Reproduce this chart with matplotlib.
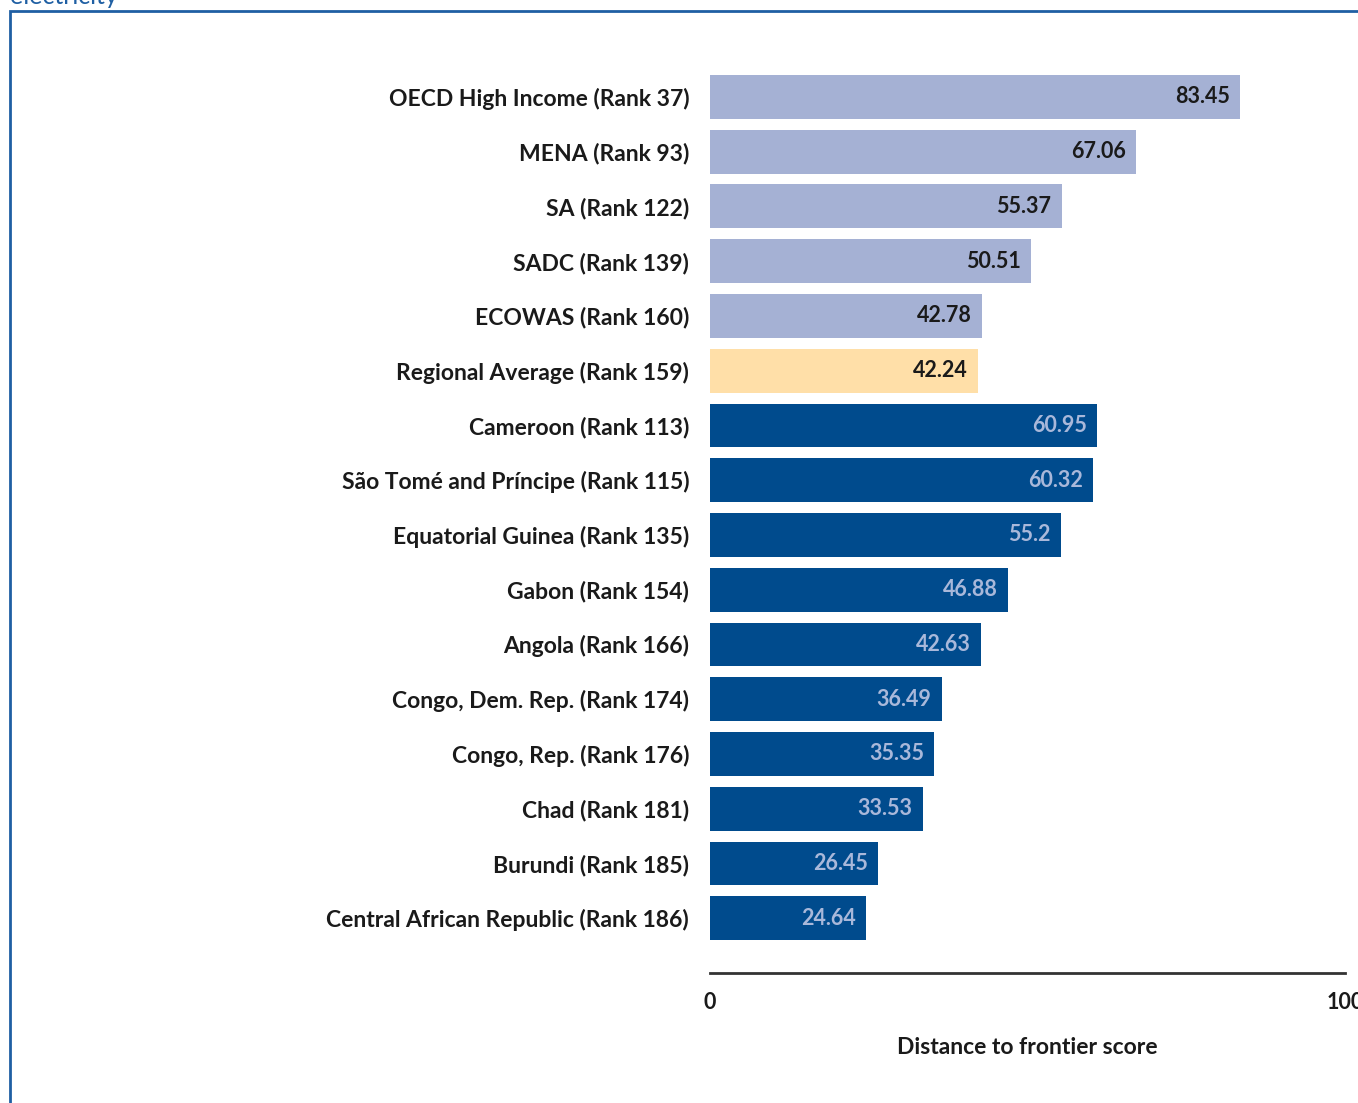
import matplotlib.pyplot as plt
from matplotlib.patches import Rectangle

# Data (top to bottom)
labels = ['OECD High Income (Rank 37)', 'MENA (Rank 93)', 'SA (Rank 122)',
          'SADC (Rank 139)', 'ECOWAS (Rank 160)', 'Regional Average (Rank 159)',
          'Cameroon (Rank 113)', 'São Tomé and Príncipe (Rank 115)',
          'Equatorial Guinea (Rank 135)', 'Gabon (Rank 154)', 'Angola (Rank 166)',
          'Congo, Dem. Rep. (Rank 174)', 'Congo, Rep. (Rank 176)',
          'Chad (Rank 181)', 'Burundi (Rank 185)',
          'Central African Republic (Rank 186)']
scores = [83.45, 67.06, 55.37, 50.51, 42.78, 42.24, 60.95, 60.32, 55.2,
          46.88, 42.63, 36.49, 35.35, 33.53, 26.45, 24.64]
groups = ['ref'] * 5 + ['avg'] + ['country'] * 10

bar_colors = {'ref': '#A5B1D4', 'avg': '#FFDFA8', 'country': '#004B8D'}
text_colors = {'ref': '#1a1a1a', 'avg': '#1a1a1a', 'country': '#A9B8DA'}

plt.rcParams['font.family'] = ['Lato', 'DejaVu Sans']

fig = plt.figure(figsize=(13.58, 11.03), dpi=100)
W, H = 1358, 1103
ax = fig.add_axes([710 / W, 1 - 973 / H, 635 / W, (973 - 64) / H])

ypos = list(range(len(scores)))
ax.barh(ypos, scores, height=0.8,
        color=[bar_colors[g] for g in groups], zorder=2)
for y, v, g in zip(ypos, scores, groups):
    ax.text(v - 1.6, y, f'{v:g}', ha='right', va='center',
            fontsize=15.5, fontweight='bold', color=text_colors[g])

ax.set_xlim(0, 100)
ax.set_ylim(16.0, -0.6)
ax.set_yticks(ypos)
ax.set_yticklabels(labels, fontsize=16.5, fontweight='bold', color='#1a1a1a')
ax.tick_params(axis='y', length=0, pad=15)
ax.set_xticks([0, 100])
ax.set_xticklabels(['0', '100'], fontsize=15.5, fontweight='bold', color='#1a1a1a')
ax.tick_params(axis='x', length=0, pad=14)
ax.set_xlabel('Distance to frontier score', fontsize=16.5, fontweight='bold',
              color='#1a1a1a', labelpad=17)
for s in ['top', 'right', 'left']:
    ax.spines[s].set_visible(False)
ax.spines['bottom'].set_color('#333333')
ax.spines['bottom'].set_linewidth(2)

# frame and cut-off caption
fig.patches.append(Rectangle((10 / W, -0.05), 1.1, 1 - 11 / H + 0.05,
                             transform=fig.transFigure, fill=False,
                             edgecolor='#1F5FA3', linewidth=2))
fig.text(10 / W, 1 + 4 / H, 'electricity', color='#1F5FA3', fontsize=18,
         ha='left', va='center')

fig.savefig('out.png', dpi=100)
